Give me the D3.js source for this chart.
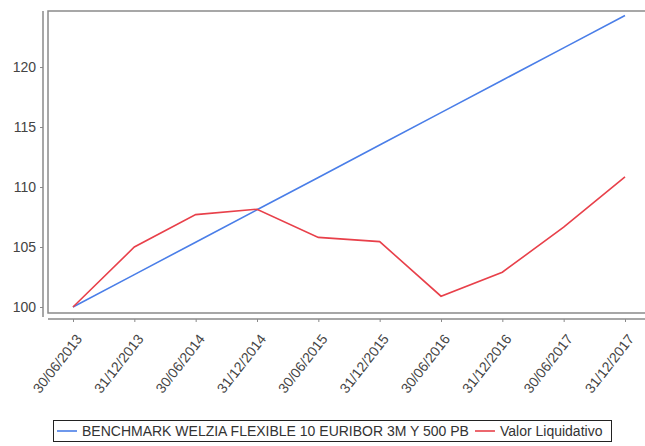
<!DOCTYPE html>
<html>
<head>
<meta charset="utf-8">
<script src="https://cdn.jsdelivr.net/npm/d3@7"></script>
<style>
	body { margin: 0; background: #fff; }
	text { font-family: "Liberation Sans", Arial, sans-serif; }
</style>
</head>
<body>
<svg id="chart"></svg>
<script>
const WIDTH = 645;
const HEIGHT = 446;

const dates = ["30/06/2013", "31/12/2013", "30/06/2014", "31/12/2014", "30/06/2015",
	"31/12/2015", "30/06/2016", "31/12/2016", "30/06/2017", "31/12/2017"];
const benchmark = [100, 102.7, 105.4, 108.1, 110.8, 113.5, 116.2, 118.9, 121.6, 124.3];
const valorLiquidativo = [100, 105.0, 107.7, 108.15, 105.8, 105.45, 100.9, 102.9, 106.65, 110.85];
const yTicks = [100, 105, 110, 115, 120];
const seriesNames = ["BENCHMARK WELZIA FLEXIBLE 10 EURIBOR 3M Y 500 PB", "Valor Liquidativo"];
const seriesColors = ["#4a7ee8", "#e8404a"];

const svg = d3.select("#chart")
	.attr("width", WIDTH)
	.attr("height", HEIGHT);

// plot area
const plotLeft = 48, plotTop = 11, plotBottom = 313, plotRight = 650;

const xScale = d3.scalePoint()
	.domain(dates)
	.range([73, 625]);
const yScale = d3.scaleLinear()
	.domain([99.5, 124.67])
	.range([plotBottom, plotTop]);

// box round the data area (no right edge visible)
svg.append("rect")
	.attr("x", plotLeft).attr("y", plotTop)
	.attr("width", plotRight - plotLeft).attr("height", plotBottom - plotTop)
	.attr("fill", "none").attr("stroke", "#8a8a8a").attr("stroke-width", 1.5);

// y axis, set a little to the left of the box
const yAxis = d3.axisLeft(yScale).tickValues(yTicks).tickSize(3).tickPadding(4);
const yAxisG = svg.append("g")
	.attr("transform", "translate(43,0)")
	.call(yAxis);
yAxisG.select(".domain")
	.attr("d", "M0," + plotTop + "V" + (plotBottom + 4))
	.attr("stroke", "#8a8a8a").attr("stroke-width", 1.5);
yAxisG.selectAll(".tick line").attr("stroke", "#8a8a8a");
yAxisG.selectAll(".tick text")
	.attr("fill", "#444").style("font-size", "14px");

// x axis, set a little below the box
const xAxis = d3.axisBottom(xScale).tickSize(3).tickFormat("");
const xAxisG = svg.append("g")
	.attr("transform", "translate(0,319)")
	.call(xAxis);
xAxisG.select(".domain")
	.attr("d", "M" + plotLeft + ",0H" + plotRight)
	.attr("stroke", "#8a8a8a").attr("stroke-width", 1.5);
xAxisG.selectAll(".tick line").attr("stroke", "#8a8a8a");

svg.append("g").selectAll("text")
	.data(dates)
	.enter()
	.append("text")
	.attr("transform", function(d) {return "translate(" + (xScale(d) + 6) + ",336) rotate(-52)";})
	.attr("text-anchor", "end")
	.attr("dy", "0.35em")
	.attr("fill", "#444")
	.style("font-size", "14px")
	.text(function(d) {return d;});

// lines
const line = d3.line()
	.x(function(d, i) {return xScale(dates[i]);})
	.y(function(d) {return yScale(d);});

[benchmark, valorLiquidativo].forEach(function(values, i) {
	svg.append("path")
		.datum(values)
		.attr("d", line)
		.attr("fill", "none")
		.attr("stroke", seriesColors[i])
		.attr("stroke-width", 1.6);
});

// legend
const legend = svg.append("g");
legend.append("rect")
	.attr("x", 53.5).attr("y", 420.5)
	.attr("width", 558).attr("height", 21)
	.attr("fill", "#fff").attr("stroke", "#222").attr("stroke-width", 1);

let lx = 57;
seriesNames.forEach(function(name, i) {
	legend.append("line")
		.attr("x1", lx).attr("x2", lx + 20)
		.attr("y1", 431).attr("y2", 431)
		.attr("stroke", seriesColors[i]).attr("stroke-width", 1.6);
	const t = legend.append("text")
		.attr("x", lx + 25).attr("y", 431)
		.attr("dy", "0.35em")
		.attr("fill", "#333")
		.style("font-size", "14px")
		.text(name);
	lx += 25 + t.node().getComputedTextLength() + 6;
});
</script>
</body>
</html>
